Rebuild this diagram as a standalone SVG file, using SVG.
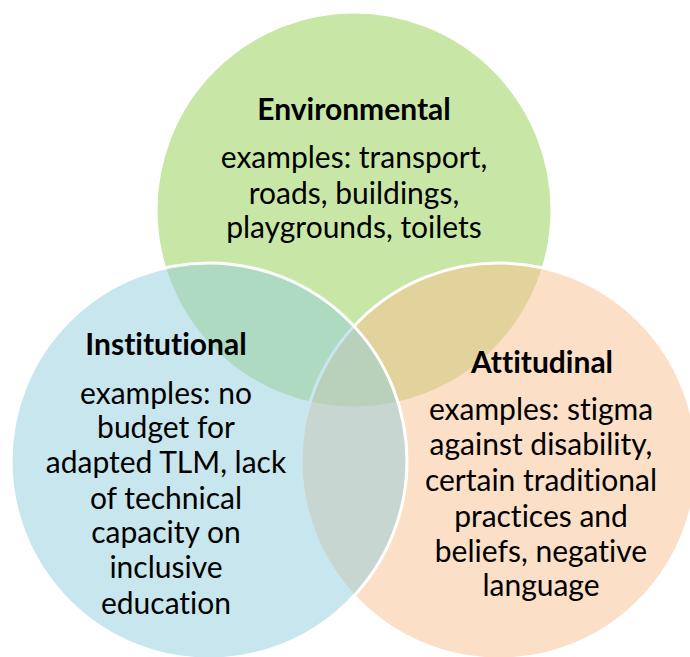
<svg xmlns="http://www.w3.org/2000/svg" width="690" height="657" viewBox="0 0 690 657">
<style>
.c{stroke:#fff;stroke-width:3;}
.t{font-family:Lato,"Noto Sans",sans-serif;font-size:30px;fill:#000;text-anchor:middle;font-variant-ligatures:none;}
.h{font-weight:bold;}
</style>
<rect width="690" height="657" fill="#fff"/>
<g id="environmental">
<circle class="c" cx="354" cy="210" r="198" fill="#92D050" fill-opacity="0.5"/>
</g>
<g id="attitudinal">
<circle class="c" cx="499" cy="461" r="198" fill="#FAC090" fill-opacity="0.5"/>
</g>
<g id="institutional">
<circle class="c" cx="209" cy="461" r="198" fill="#92CDDC" fill-opacity="0.5"/>
</g>
<g id="labels">
<text class="t h" x="354" y="120">Environmental</text>
<text class="t" x="354" y="168">examples: transport,</text>
<text class="t" x="354" y="204">roads, buildings,</text>
<text class="t" x="354" y="238">playgrounds, toilets</text>
<text class="t h" x="166" y="355">Institutional</text>
<text class="t" x="166" y="404">examples: no</text>
<text class="t" x="166" y="438">budget for</text>
<text class="t" x="166" y="473">adapted TLM, lack</text>
<text class="t" x="166" y="509">of technical</text>
<text class="t" x="166" y="543">capacity on</text>
<text class="t" x="166" y="578">inclusive</text>
<text class="t" x="166" y="614">education</text>
<text class="t h" x="542" y="373">Attitudinal</text>
<text class="t" x="541" y="420">examples: stigma</text>
<text class="t" x="541" y="455">against disability,</text>
<text class="t" x="541" y="491">certain traditional</text>
<text class="t" x="541" y="527">practices and</text>
<text class="t" x="541" y="562">beliefs, negative</text>
<text class="t" x="541" y="596">language</text>
</g>
</svg>
